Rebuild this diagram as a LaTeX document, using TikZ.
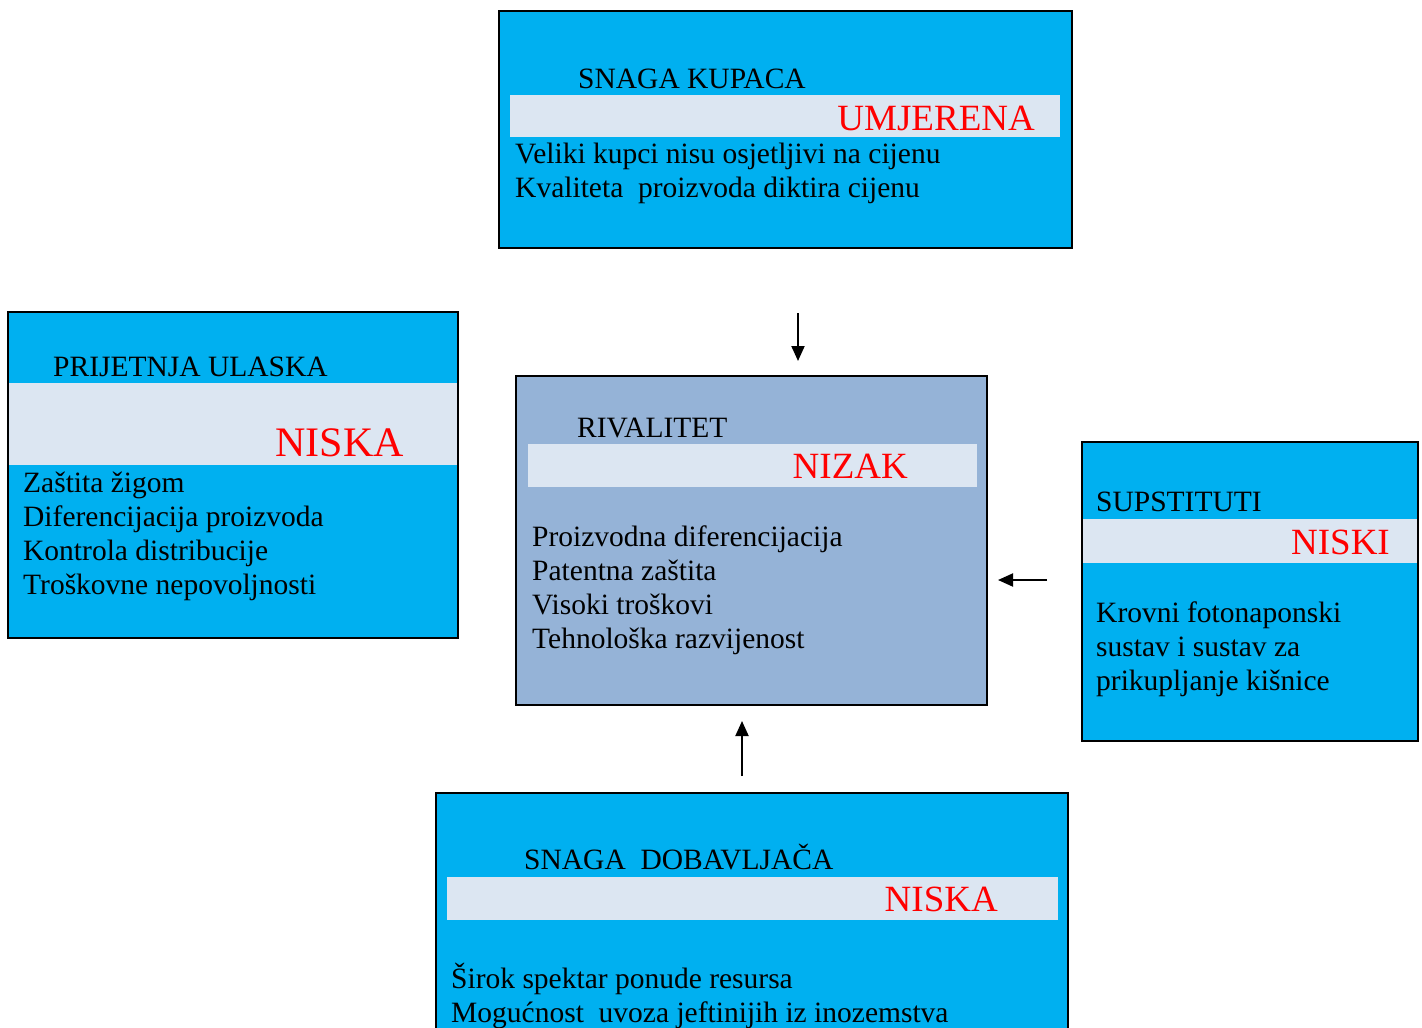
\documentclass[tikz,border=0pt]{standalone}
\usepackage{fontspec}
\setmainfont{Liberation Serif}
\usetikzlibrary{arrows.meta}

\definecolor{plava}{HTML}{00B0F0}
\definecolor{sivoplava}{HTML}{95B3D7}
\definecolor{traka}{HTML}{DCE6F2}

\tikzset{
  okvir/.style={anchor=north west, inner sep=0pt, fill=plava},
  rub/.style={draw=black, line width=2pt},
  pojas/.style={anchor=north west, inner sep=0pt, fill=traka},
  naslov/.style={anchor=base west, inner sep=0pt, font=\fontsize{29.5}{34}\selectfont},
  ocjena/.style={anchor=base east, inner sep=0pt, text=red, font=\fontsize{37}{42}\selectfont},
  % base of a multi-line node = baseline of its last line
  opis/.style={anchor=base west, inner sep=0pt, align=left, font=\fontsize{29.5}{34}\selectfont},
  strelica/.style={-{Triangle[length=15pt,width=13pt]}, line width=2pt}
}

\begin{document}
\begin{tikzpicture}[x=1pt,y=-1pt]
\clip (0,0) rectangle (1422,1028);
\fill[white] (0,0) rectangle (1422,1028);

% snaga kupaca
\node[okvir, minimum width=573pt, minimum height=237pt] (kupci) at (499,11) {};
\node[pojas, minimum width=550pt, minimum height=42pt] (kupci-p) at (510,95) {};
\node[naslov] (kupci-n) at (578,88) {SNAGA KUPACA};
\node[ocjena] (kupci-o) at (1035,130) {UMJERENA};
\node[opis] (kupci-t) at (515,197) {Veliki kupci nisu osjetljivi na cijenu\\Kvaliteta\ \ proizvoda diktira cijenu};
\draw[rub] (kupci.north west) rectangle (kupci.south east);

% prijetnja ulaska
\node[okvir, minimum width=450pt, minimum height=326pt] (ulaz) at (8,312) {};
\node[pojas, minimum width=449pt, minimum height=82pt] (ulaz-p) at (9,383) {};
\node[naslov] (ulaz-n) at (53,376) {PRIJETNJA ULASKA};
\node[ocjena, font=\fontsize{42}{46}\selectfont] (ulaz-o) at (404,456) {NISKA};
\node[opis] (ulaz-t) at (23,594) {Zaštita žigom\\Diferencijacija proizvoda\\Kontrola distribucije\\Troškovne nepovoljnosti};
\draw[rub] (ulaz.north west) rectangle (ulaz.south east);

% rivalitet
\node[okvir, fill=sivoplava, minimum width=471pt, minimum height=329pt] (rival) at (516,376) {};
\node[pojas, minimum width=449pt, minimum height=43pt] (rival-p) at (528,444) {};
\node[naslov] (rival-n) at (577,437) {RIVALITET};
\node[ocjena] (rival-o) at (908,478) {NIZAK};
\node[opis] (rival-t) at (532,648) {Proizvodna diferencijacija\\Patentna zaštita\\Visoki troškovi\\Tehnološka razvijenost};
\draw[rub] (rival.north west) rectangle (rival.south east);

% supstituti
\node[okvir, minimum width=336pt, minimum height=299pt] (supst) at (1082,442) {};
\node[pojas, minimum width=334pt, minimum height=44pt] (supst-p) at (1083,519) {};
\node[naslov] (supst-n) at (1096,511) {SUPSTITUTI};
\node[ocjena] (supst-o) at (1390,554) {NISKI};
\node[opis] (supst-t) at (1096,690) {Krovni fotonaponski\\sustav i sustav za\\prikupljanje kišnice};
\draw[rub] (supst.north west) rectangle (supst.south east);

% snaga dobavljaca
\node[okvir, minimum width=632pt, minimum height=260pt] (dobav) at (436,793) {};
\node[pojas, minimum width=611pt, minimum height=43pt] (dobav-p) at (447,877) {};
\node[naslov] (dobav-n) at (524,869) {SNAGA\ \ DOBAVLJAČA};
\node[ocjena] (dobav-o) at (998,911) {NISKA};
\node[opis] (dobav-t) at (451,1022) {Širok spektar ponude resursa\\Mogućnost\ \ uvoza jeftinijih iz inozemstva};
\draw[rub] (dobav.north west) rectangle (dobav.south east);

% strelice
\coordinate (s1) at (798,313);
\coordinate (c1) at (798,361);
\coordinate (s2) at (1047,580);
\coordinate (c2) at (998,580);
\coordinate (s3) at (742,776);
\coordinate (c3) at (742,721);
\draw[strelica] (s1) -- (c1);
\draw[strelica] (s2) -- (c2);
\draw[strelica] (s3) -- (c3);
\end{tikzpicture}
\end{document}
